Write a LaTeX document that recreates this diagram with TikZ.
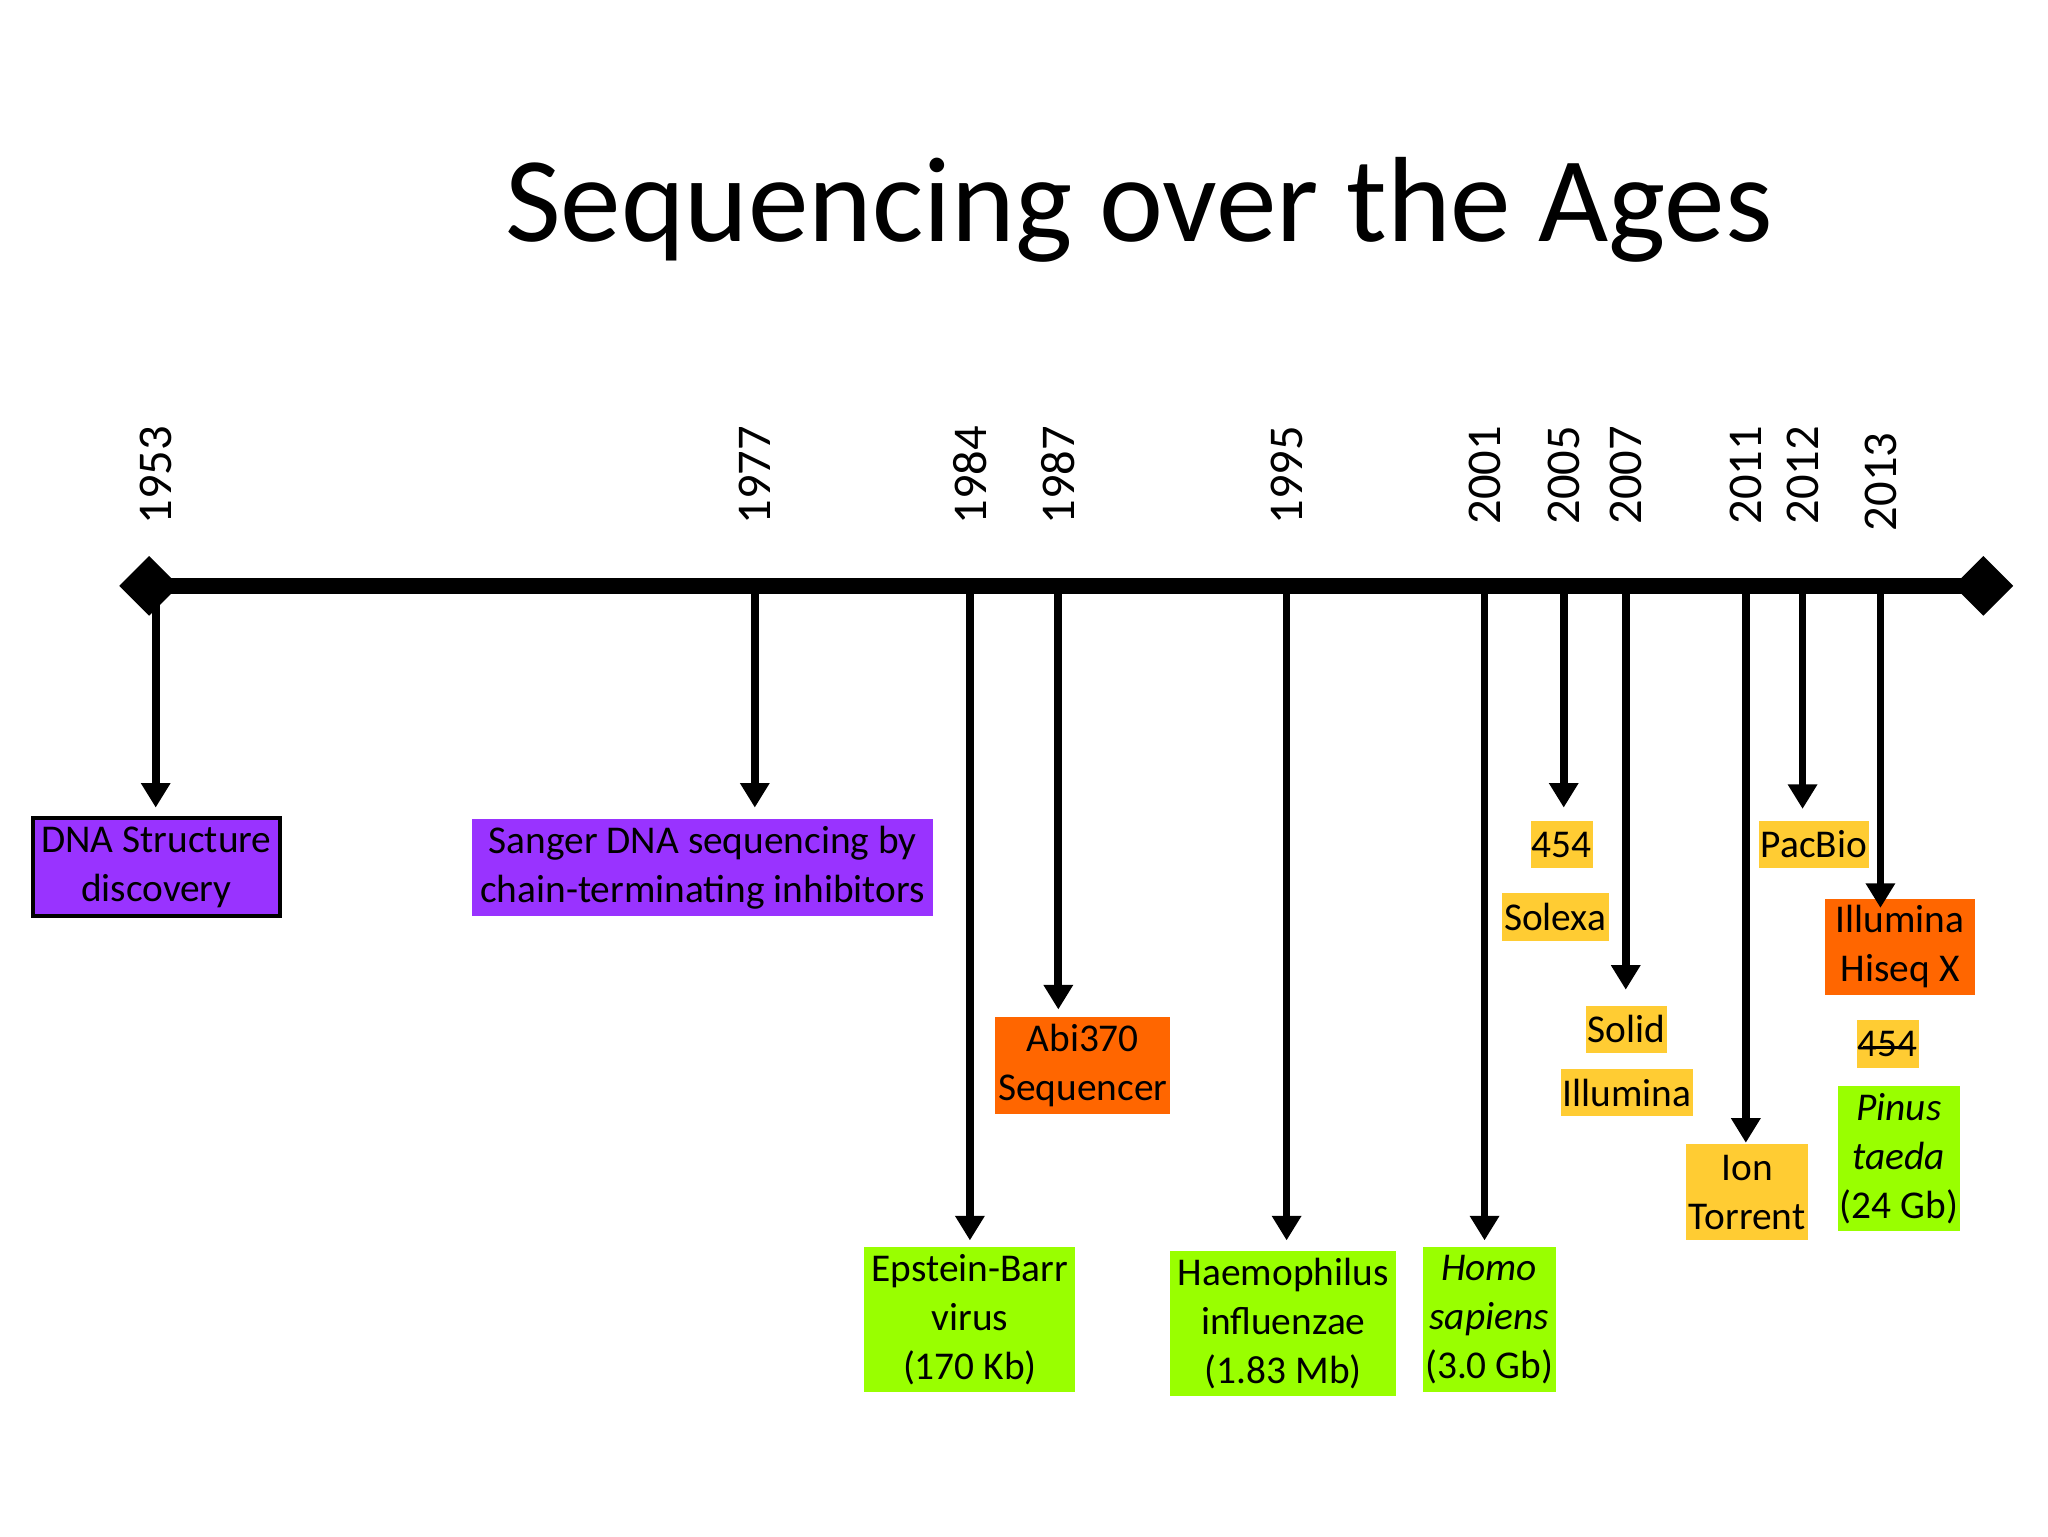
\documentclass[tikz,border=0pt]{standalone}
\usepackage{fontspec}
\setmainfont{Carlito}
\usetikzlibrary{arrows.meta}
\definecolor{purp}{HTML}{9933FF}
\definecolor{orng}{HTML}{FF6600}
\definecolor{grn}{HTML}{99FF00}
\definecolor{yel}{HTML}{FFCC33}
\tikzset{
  box/.style={inner sep=0pt, align=center, font=\fontsize{11.2}{13.9}\selectfont},
  yr/.style={rotate=90, anchor=west, inner sep=0pt, font=\fontsize{13.8}{16}\selectfont},
  arr/.style={line width=2.2pt, -{Triangle[length=7pt,width=8pt]}},
  dia/.style={fill=black, minimum size=12pt, inner sep=0pt, rotate=45, draw=none}
}
\newcommand{\bx}[7]{%
  \pgfmathsetmacro{\bw}{(#5-#3)*0.0132}%
  \pgfmathsetmacro{\bh}{(#6-#4)*0.0132}%
  \node[box, #2, minimum width=\bw cm, minimum height=\bh cm] (#1) at ({(#3+#5)/2},{(#4+#6)/2}) {#7};}
\begin{document}
\begin{tikzpicture}[x=0.0132cm,y=-0.0132cm]
\useasboundingbox (0,0) rectangle (1552,1164);
\node[font=\fontsize{34.5}{38}\selectfont, anchor=base] (title) at (863,183) {Sequencing over the Ages};
\node[dia] (L) at (113,444) {};
\node[dia] (R) at (1503,444) {};
\draw[line width=4.6pt] (L.center) -- (R.center);
\foreach \n/\x/\y in {a/118/1953,b/572/1977,c/735/1984,d/802/1987,e/975/1995,f/1125/2001,g/1185/2005,h/1232/2007,i/1323/2011,j/1366/2012}{
  \node[yr] (y\n) at (\x,398) {\y};
  \coordinate (t\n) at (\x,450);
}
\node[yr] (yk) at (1425,403) {2013};
\coordinate (tk) at (1425,450);
\bx{dna}{draw=black, line width=1pt, fill=purp}{25}{620}{212}{694}{DNA Structure\\discovery}
\bx{sanger}{fill=purp}{358}{621}{707}{694}{Sanger DNA sequencing by\\chain-terminating inhibitors}
\bx{abi}{fill=orng}{754}{771}{887}{844}{Abi370\\Sequencer}
\bx{ebv}{fill=grn}{655}{945}{815}{1055}{Epstein-Barr\\virus\\(170 Kb)}
\bx{hae}{fill=grn}{887}{948}{1058}{1058}{Haemophilus\\influenzae\\(1.83 Mb)}
\bx{homo}{fill=grn}{1078}{945}{1179}{1055}{\textit{Homo}\\\textit{sapiens}\\(3.0 Gb)}
\bx{f454}{fill=yel}{1160}{622}{1207}{658}{454}
\bx{solexa}{fill=yel}{1138}{677}{1219}{713}{Solexa}
\bx{solid}{fill=yel}{1202}{762}{1263}{798}{Solid}
\bx{illum}{fill=yel}{1183}{810}{1283}{846}{Illumina}
\bx{ion}{fill=yel}{1278}{867}{1370}{940}{Ion\\Torrent}
\bx{pac}{fill=yel}{1333}{622}{1416}{658}{PacBio}
\bx{hiseq}{fill=orng}{1383}{681}{1497}{754}{Illumina\\Hiseq X}
\bx{s454}{fill=yel}{1407}{773}{1454}{809}{454}
\draw[line width=0.8pt] ([xshift=2pt,yshift=-1pt]s454.west) -- ([xshift=-2pt,yshift=-1pt]s454.east);
\bx{pinus}{fill=grn}{1393}{823}{1485}{933}{\textit{Pinus}\\\textit{taeda}\\(24 Gb)}
\coordinate (ea) at (118,612); \coordinate (eb) at (572,612);
\coordinate (ec) at (735,940); \coordinate (ed) at (802,765);
\coordinate (ee) at (975,940); \coordinate (ef) at (1125,940);
\coordinate (eg) at (1185,612); \coordinate (eh) at (1232,750);
\coordinate (ei) at (1323,866); \coordinate (ej) at (1366,613);
\coordinate (ek) at (1425,688);
\foreach \n in {a,b,c,d,e,f,g,h,i,j,k}{\draw[arr] (t\n) -- (e\n);}
\end{tikzpicture}
\end{document}
